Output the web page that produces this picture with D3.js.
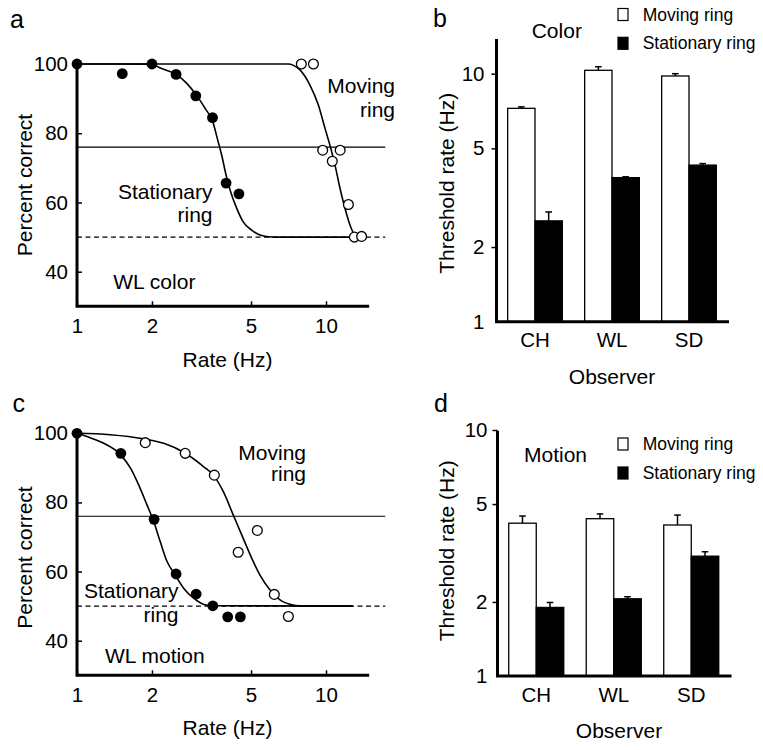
<!DOCTYPE html>
<html><head><meta charset="utf-8">
<script src="https://cdn.jsdelivr.net/npm/d3@7"></script>
<style>
body{margin:0;background:#fff}
svg text{font-family:"Liberation Sans",Arial,Helvetica,sans-serif;fill:#000}
</style></head><body>
<svg id="chart" width="763" height="750"></svg>
<script>
// ---------------- DATA ----------------
const rateTicks = [1, 2, 5, 10];
const pctTicks = [40, 60, 80, 100];
const thrTicks = [1, 2, 5, 10];
const observers = ["CH", "WL", "SD"];
const seriesNames = ["Moving ring", "Stationary ring"];
const thresholdPct = 76;
const chancePct = 50;
const refLineEndRate = 17.3;

// Panel a (WL color)
const aStatRate = [1, 1.52, 2, 2.5, 3.0, 3.5, 3.97, 4.47];
const aStatPct  = [100, 97.2, 100, 97.0, 90.8, 84.5, 65.6, 62.5];
const aMovRate  = [7.96, 8.9, 9.7, 11.4, 10.6, 12.3, 13.0, 13.9];
const aMovPct   = [100, 100, 75.1, 75.1, 71.9, 59.4, 50.0, 50.2];
const aStatFitRate = [1, 1.5, 1.9, 2.0, 2.15, 2.5, 2.76, 3.03, 3.27, 3.51, 3.69, 3.81, 3.97, 4.14, 4.38, 4.65, 5.03, 5.43, 5.87, 6.3, 12.8];
const aStatFitPct  = [100, 100, 99.95, 99.9, 98.9, 97.0, 94.4, 90.8, 87.2, 83.3, 77.5, 73.7, 67.9, 63.1, 58.3, 54.4, 52.0, 50.6, 50.1, 50, 50];
const aMovFitRate = [1, 6.5, 7.06, 7.4, 7.86, 8.62, 9.31, 9.91, 10.44, 10.87, 11.38, 11.92, 12.48, 13.07, 13.7, 14.1];
const aMovFitPct  = [100, 100, 100, 99.6, 98.3, 93.9, 88.2, 81.4, 75.8, 70.8, 64.1, 58.3, 53.5, 50.6, 50.1, 50];

// Panel c (WL motion)
const cStatRate = [1, 1.50, 2.04, 2.50, 3.01, 3.51, 4.03, 4.53];
const cStatPct  = [100, 94.2, 75.1, 59.3, 53.5, 50.1, 46.9, 46.9];
const cMovRate  = [1.88, 2.72, 3.56, 5.30, 4.44, 6.2, 7.06];
const cMovPct   = [97.3, 94.2, 87.9, 71.9, 65.6, 53.4, 47.0];
const cStatFitRate = [1, 1.13, 1.28, 1.49, 1.64, 1.77, 1.91, 2.03, 2.16, 2.30, 2.48, 2.68, 2.94, 3.23, 3.54, 12.8];
const cStatFitPct  = [100, 98.7, 97.1, 93.9, 89.9, 85.0, 79.3, 74.6, 68.6, 62.9, 59.0, 55.2, 52.3, 50.5, 50.1, 50];
const cMovFitRate = [1, 1.36, 1.85, 2.23, 2.68, 3.23, 3.53, 3.87, 4.24, 4.65, 5.03, 5.43, 5.96, 6.54, 7.28, 7.86, 12.8];
const cMovFitPct  = [100, 99.6, 98.4, 97.1, 94.5, 90.3, 87.9, 83.1, 76.4, 69.6, 63.9, 59.0, 54.7, 51.8, 50.4, 50.1, 50];

// Panel b (Color thresholds, Hz)
const bMoving     = [7.25, 10.32, 9.79];
const bMovingErr  = [7.35, 10.67, 10.0];
const bStat       = [2.55, 3.81, 4.28];
const bStatErr    = [2.77, 3.84, 4.34];
// Panel d (Motion thresholds, Hz)
const dMoving     = [4.18, 4.36, 4.11];
const dMovingErr  = [4.47, 4.56, 4.51];
const dStat       = [1.90, 2.06, 3.07];
const dStatErr    = [1.99, 2.10, 3.20];

// ---------------- DRAW ----------------
const svg = d3.select("#chart");
const AXW = 3;

function txt(g, x, y, s, size, anchor) {
  return g.append("text").attr("x", x).attr("y", y).attr("font-size", size)
    .attr("text-anchor", anchor || "start").text(s);
}

function linePanel(cfg) {
  const g = svg.append("g");
  const x = d3.scaleLog().domain([1, 10]).range([77, 326]);
  const y = d3.scaleLinear().domain([40, 100]).range([cfg.y40, cfg.y100]);
  const xEnd = 14.7, yBot = 30;

  // reference lines
  g.append("line").attr("x1", x(1)).attr("x2", x(refLineEndRate))
    .attr("y1", y(thresholdPct)).attr("y2", y(thresholdPct))
    .attr("stroke", "#000").attr("stroke-width", 1.2);
  g.append("line").attr("x1", x(1)).attr("x2", x(refLineEndRate))
    .attr("y1", y(chancePct)).attr("y2", y(chancePct))
    .attr("stroke", "#000").attr("stroke-width", 1.2).attr("stroke-dasharray", "5,3.5");

  // fitted curves
  const line = d3.line().x(d => x(d[0])).y(d => y(d[1])).curve(d3.curveMonotoneX);
  [[cfg.statFitRate, cfg.statFitPct], [cfg.movFitRate, cfg.movFitPct]].forEach(([r, p]) => {
    g.append("path").datum(r.map((v, i) => [v, p[i]])).attr("d", line)
      .attr("fill", "none").attr("stroke", "#000").attr("stroke-width", 1.6);
  });

  // axes ticks / labels
  const xa = d3.axisBottom(x).tickValues(rateTicks).tickFormat(d3.format("d"))
    .tickSizeInner(-5).tickSizeOuter(0).tickPadding(12);
  const gx = g.append("g").attr("transform", `translate(0,${y(yBot)})`).call(xa);
  const ya = d3.axisLeft(y).tickValues(pctTicks).tickSizeInner(-5).tickSizeOuter(0).tickPadding(9);
  const gy = g.append("g").attr("transform", `translate(${x(1)},0)`).call(ya);
  [gx, gy].forEach(a => {
    a.select(".domain").remove();
    a.selectAll("text").attr("font-size", 20.5).attr("font-family", null);
    a.selectAll(".tick line").attr("stroke-width", 1.5);
  });
  // thick axis lines
  g.append("path").attr("d", `M${x(1)},${y(100)}V${y(yBot)}H${x(xEnd)}`)
    .attr("fill", "none").attr("stroke", "#000").attr("stroke-width", AXW)
    .attr("stroke-linecap", "square");

  // points
  g.selectAll(".mov").data(cfg.movRate.map((v, i) => [v, cfg.movPct[i]])).join("circle")
    .attr("cx", d => x(d[0])).attr("cy", d => y(d[1])).attr("r", 4.9)
    .attr("fill", "#fff").attr("stroke", "#000").attr("stroke-width", 1.3);
  g.selectAll(".stat").data(cfg.statRate.map((v, i) => [v, cfg.statPct[i]])).join("circle")
    .attr("cx", d => x(d[0])).attr("cy", d => y(d[1])).attr("r", 5.4).attr("fill", "#000");

  // texts
  cfg.texts.forEach(t => txt(g, t[0], t[1], t[2], t[3] || 21, t[4]));
  g.append("text").attr("transform", `translate(31.5,${cfg.ylabY}) rotate(-90)`)
    .attr("text-anchor", "middle").attr("font-size", 21).text("Percent correct");
}

function barPanel(cfg) {
  const g = svg.append("g");
  const x0 = d3.scaleBand().domain(observers).range(cfg.xr).paddingInner(0.29).paddingOuter(0.145);
  const x1 = d3.scaleBand().domain(seriesNames).range([0, x0.bandwidth()]);
  const y = d3.scaleLog().domain([1, 10]).range(cfg.yr);
  const data = [];
  observers.forEach((o, i) => {
    data.push({o, s: seriesNames[0], v: cfg.mov[i], e: cfg.movErr[i]});
    data.push({o, s: seriesNames[1], v: cfg.stat[i], e: cfg.statErr[i]});
  });
  // error bars
  data.forEach(d => {
    const cx = x0(d.o) + x1(d.s) + x1.bandwidth() / 2;
    g.append("line").attr("x1", cx).attr("x2", cx).attr("y1", y(d.v)).attr("y2", y(d.e))
      .attr("stroke", "#000").attr("stroke-width", 1.5);
    g.append("line").attr("x1", cx - 3.3).attr("x2", cx + 3.3).attr("y1", y(d.e)).attr("y2", y(d.e))
      .attr("stroke", "#000").attr("stroke-width", 1.5);
  });
  g.selectAll("rect.bar").data(data).join("rect").attr("class", "bar")
    .attr("x", d => x0(d.o) + x1(d.s)).attr("width", x1.bandwidth())
    .attr("y", d => y(d.v)).attr("height", d => y(1) - y(d.v))
    .attr("fill", d => d.s === seriesNames[0] ? "#fff" : "#000")
    .attr("stroke", "#000").attr("stroke-width", 1.3);

  const ya = d3.axisLeft(y).tickValues(thrTicks).tickFormat(d3.format("d"))
    .tickSizeInner(5).tickSizeOuter(0).tickPadding(cfg.tickPad);
  const gy = g.append("g").attr("transform", `translate(${cfg.xr[0]},0)`).call(ya);
  gy.select(".domain").remove();
  gy.selectAll("text").attr("font-size", 20.5).attr("font-family", null);
  gy.selectAll(".tick line").attr("stroke-width", 1.5);
  gy.selectAll(".tick").filter(d => d === 1).select("line").remove();
  const xa = d3.axisBottom(x0).tickSize(0).tickPadding(11);
  const gx = g.append("g").attr("transform", `translate(0,${y(1)})`).call(xa);
  gx.select(".domain").remove();
  gx.selectAll("text").attr("font-size", 20.5).attr("font-family", null);

  g.append("path").attr("d", `M${cfg.xr[0]},${y(cfg.yTop)}V${y(1)}H${cfg.xr[1]}`)
    .attr("fill", "none").attr("stroke", "#000").attr("stroke-width", AXW)
    .attr("stroke-linecap", "square");

  // legend
  seriesNames.forEach((s, i) => {
    const by = cfg.legY[i];
    g.append("rect").attr("x", 618).attr("y", by - 12).attr("width", 10).attr("height", 12)
      .attr("fill", i === 0 ? "#fff" : "#000").attr("stroke", "#000").attr("stroke-width", 1.2);
    txt(g, 642.7, by, s, 17.5);
  });
  txt(g, cfg.title[0], cfg.title[1], cfg.title[2], 21);
  txt(g, cfg.obsX, y(1) + 62, "Observer", 21, "middle");
  g.append("text").attr("transform", `translate(454,${cfg.ylabY}) rotate(-90)`)
    .attr("text-anchor", "middle").attr("font-size", 21).text("Threshold rate (Hz)");
}

linePanel({
  y40: 271.7, y100: 64, ylabY: 185,
  statRate: aStatRate, statPct: aStatPct, movRate: aMovRate, movPct: aMovPct,
  statFitRate: aStatFitRate, statFitPct: aStatFitPct, movFitRate: aMovFitRate, movFitPct: aMovFitPct,
  texts: [[10, 28, "a", 25], [227.5, 366.5, "Rate (Hz)", 21, "middle"],
          [395, 93.3, "Moving", 21, "end"], [395, 116.5, "ring", 21, "end"],
          [212.5, 198.5, "Stationary", 21, "end"], [212.5, 221.5, "ring", 21, "end"],
          [113.3, 289, "WL color", 21]]
});
linePanel({
  y40: 640.7, y100: 433.3, ylabY: 557.5,
  statRate: cStatRate, statPct: cStatPct, movRate: cMovRate, movPct: cMovPct,
  statFitRate: cStatFitRate, statFitPct: cStatFitPct, movFitRate: cMovFitRate, movFitPct: cMovFitPct,
  texts: [[12.5, 411.7, "c", 25], [227.5, 735, "Rate (Hz)", 21, "middle"],
          [306, 460, "Moving", 21, "end"], [306, 481, "ring", 21, "end"],
          [178.5, 598, "Stationary", 21, "end"], [178.5, 621.7, "ring", 21, "end"],
          [105, 663.3, "WL motion", 21]]
});
barPanel({
  xr: [496.5, 727.5], yr: [321.7, 73.7], yTop: 13.6, tickPad: 7, ylabY: 183.3,
  mov: bMoving, movErr: bMovingErr, stat: bStat, statErr: bStatErr,
  legY: [20.5, 49.3], title: [531.7, 38.3, "Color"], obsX: 612
});
barPanel({
  xr: [497.5, 730], yr: [676, 430], yTop: 9.8, tickPad: 5, ylabY: 550.8,
  mov: dMoving, movErr: dMovingErr, stat: dStat, statErr: dStatErr,
  legY: [450, 479], title: [524, 461.7, "Motion"], obsX: 619
});
txt(svg, 433, 26.7, "b", 25);
txt(svg, 434, 411.7, "d", 25);
</script>
</body></html>
